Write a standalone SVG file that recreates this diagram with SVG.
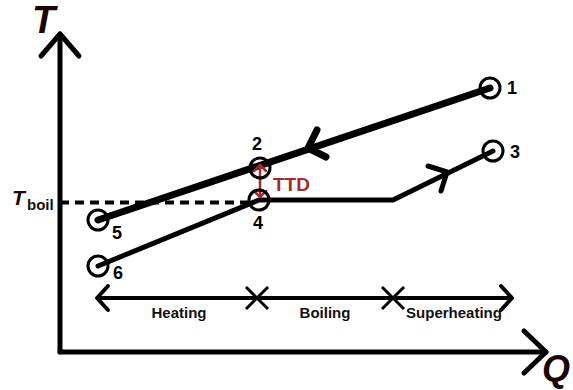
<svg xmlns="http://www.w3.org/2000/svg" width="573" height="390" viewBox="0 0 573 390">
<style>
.ax{fill:none;stroke:#000;stroke-width:5;stroke-linecap:round;stroke-linejoin:round}
.hot{fill:none;stroke:#000;stroke-width:7;stroke-linecap:round;stroke-linejoin:round}
.cold{fill:none;stroke:#000;stroke-width:5;stroke-linecap:round;stroke-linejoin:round}
.pt{fill:none;stroke:#000;stroke-width:3}
.lbl{font-family:"Liberation Sans",Arial,sans-serif;font-weight:bold;font-size:18px;fill:#000}
.reg{font-family:"Liberation Sans",Arial,sans-serif;font-weight:bold;font-size:15px;fill:#111}
.big{font-family:"Liberation Sans",Arial,sans-serif;font-weight:bold;font-style:italic;fill:#1a0505}
.red{fill:none;stroke:#a52a2a;stroke-width:2.5;stroke-linecap:round;stroke-linejoin:round}
</style>
<g id="axes">
<polyline class="ax" points="60,352 60,34"/>
<polyline class="ax" points="41,56 60,34 79,56"/>
<polyline class="ax" points="60,352 546,352"/>
<polyline class="ax" points="524,331 546,352 524,373"/>
<text class="big" x="32" y="33" font-size="38">T</text>
<text class="big" x="542" y="381" font-size="36">Q</text>
</g>
<g id="tboil">
<line x1="60" y1="202.5" x2="250" y2="202.5" stroke="#000" stroke-width="4" stroke-dasharray="9,6"/>
<text class="big" x="12" y="205" font-size="21">T</text>
<text class="reg" x="27" y="210" font-size="15">boil</text>
</g>
<g id="connectors">
<line class="hot" x1="98" y1="220" x2="490" y2="88"/>
<polyline class="hot" points="317,130 308,148 326,157"/>
<polyline class="cold" points="98,266 259,200 393,200 493,151"/>
<polyline class="cold" points="428,166 447,172 441,191"/>
<g id="ttd">
<line class="red" x1="260" y1="165" x2="260" y2="197"/>
<polyline class="red" points="254,171 260,165 266,171"/>
<polyline class="red" points="254,191 260,197 266,191"/>
<text x="273" y="191" font-family="'Liberation Sans',Arial,sans-serif" font-weight="bold" font-size="19" fill="#a52a2a">TTD</text>
</g>
</g>
<g id="n1"><circle class="pt" cx="490" cy="88" r="10"/><text class="lbl" x="507" y="94">1</text></g>
<g id="n2"><circle class="pt" cx="260" cy="168" r="10"/><text class="lbl" x="252" y="150">2</text></g>
<g id="n3"><circle class="pt" cx="493" cy="151" r="10"/><text class="lbl" x="510" y="158">3</text></g>
<g id="n4"><circle class="pt" cx="259" cy="200" r="10"/><text class="lbl" x="253" y="229">4</text></g>
<g id="n5"><circle class="pt" cx="98" cy="220" r="10"/><text class="lbl" x="112" y="239">5</text></g>
<g id="n6"><circle class="pt" cx="98" cy="266" r="10"/><text class="lbl" x="113" y="279">6</text></g>
<g id="regions">
<line x1="97" y1="298" x2="512" y2="298" stroke="#000" stroke-width="4"/>
<polyline fill="none" stroke="#000" stroke-width="4" stroke-linecap="round" stroke-linejoin="round" points="108,286 97,298 108,310"/>
<polyline fill="none" stroke="#000" stroke-width="4" stroke-linecap="round" stroke-linejoin="round" points="501,286 512,298 501,310"/>
<path d="M246,287 L268,309 M268,287 L246,309 M382,287 L404,309 M404,287 L382,309" stroke="#000" stroke-width="3" fill="none"/>
<text class="reg" x="179" y="318" text-anchor="middle">Heating</text>
<text class="reg" x="325" y="318" text-anchor="middle">Boiling</text>
<text class="reg" x="454" y="318" text-anchor="middle" font-size="14">Superheating</text>
</g>
</svg>
